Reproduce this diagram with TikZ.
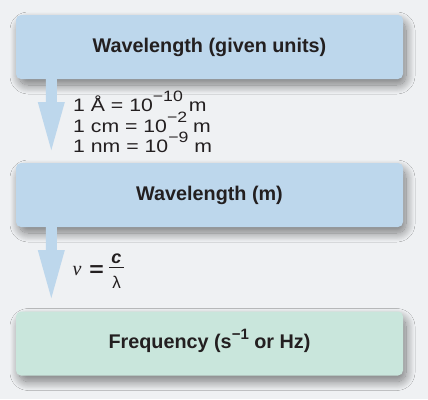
\documentclass[tikz,border=0pt]{standalone}
\usepackage{fontspec}
\setmainfont{Liberation Sans}
\newfontfamily\serifnu{Liberation Serif}
\newfontfamily\widesans[FakeStretch=1.18]{Liberation Sans}
\usetikzlibrary{shadows.blur,calc}
\definecolor{bg}{HTML}{EFF1F3}
\definecolor{boxblue}{HTML}{BDD7EC}
\definecolor{boxgreen}{HTML}{C9E6DC}
\definecolor{ink}{HTML}{231F20}
\newcommand\supr[1]{\smash{\raisebox{9.5pt}{\fontsize{15}{15}\selectfont #1}}}
\newcommand\supw[1]{\smash{\raisebox{10pt}{\fontsize{15}{15}\selectfont #1}}}
\newcommand\fatarrow[2]{%
  \fill[boxblue] ($(#1)+(-5.5,0)$) -- ($(#2)+(-5.5,-48)$) -- ($(#2)+(-13.5,-48)$) -- (#2)
     -- ($(#2)+(13.5,-48)$) -- ($(#2)+(5.5,-48)$) -- ($(#1)+(5.5,0)$) -- cycle;}
\begin{document}
\begin{tikzpicture}[x=1pt,y=-1pt,
  box/.style={rounded corners=5pt, minimum width=387pt, minimum height=64pt,
    inner sep=0pt, text=ink, font=\fontsize{19.8}{22}\selectfont\bfseries,
    blur shadow={shadow xshift=3pt, shadow yshift=-6pt, shadow blur radius=9pt,
      shadow blur steps=20, shadow blur extra rounding, shadow opacity=50}},
  lbl/.style={text=ink, inner sep=0pt},
  conv/.style={lbl, anchor=base west, font=\fontsize{18}{21}\selectfont\widesans}]
\fill[bg] (0,0) rectangle (428,399);
\useasboundingbox (0,0) rectangle (428,399);
\node[box, fill=boxblue] (b1) at (209.5,47) {Wavelength (given units)};
\node[box, fill=boxblue] (b2) at (209.5,195) {Wavelength (m)};
\node[box, fill=boxgreen] (b3) at (209.5,343.5) {Frequency (s\supr{−1} or Hz)};
% arrows
\path (b1.south west) ++(35.5,0) coordinate (a1s);
\path (b1.south west) ++(35.5,71) coordinate (a1t);
\path (b2.south west) ++(35.5,0) coordinate (a2s);
\path (b2.south west) ++(35.5,71) coordinate (a2t);
\fatarrow{a1s}{a1t}
\fatarrow{a2s}{a2t}
% conversions
\node[conv] (c1) at (73,111) {1 Å = 10\supw{−10} m};
\node[conv] (c2) at (73,132) {1 cm = 10\supw{−2} m};
\node[conv] (c3) at (73,152) {1 nm = 10\supw{−9} m};
% formula
\node[lbl, anchor=base west, font=\fontsize{20}{20}\selectfont\serifnu\itshape] (nu) at (72.5,275) {ν};
\node[lbl, anchor=base, font=\fontsize{21}{21}\selectfont\widesans\bfseries] (eq) at (96.5,276) {=};
\node[lbl, anchor=base, font=\fontsize{18}{18}\selectfont\bfseries\itshape] (cc) at (116.5,263) {c};
\node[lbl, anchor=base, font=\fontsize{17}{17}\selectfont] (lam) at (116.5,288) {λ};
\draw[ink, line width=1.3pt] ($(cc.south)+(-7.5,4)$) -- ($(cc.south)+(7.5,4)$);
\end{tikzpicture}
\end{document}
